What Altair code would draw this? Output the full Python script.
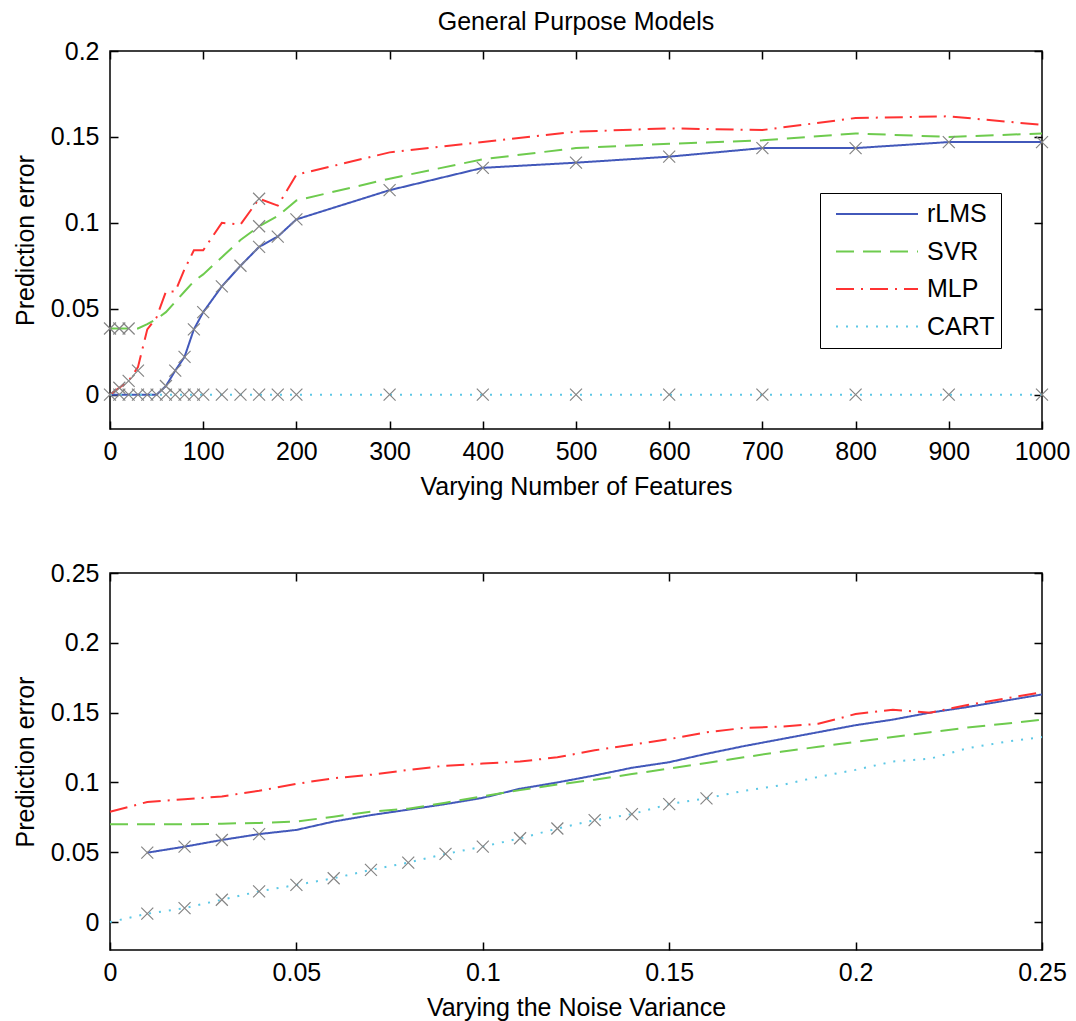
import altair as alt
import pandas as pd

FONT = "Liberation Sans"
SERIES = ["rLMS", "SVR", "MLP", "CART"]
COLORS = ["#4258ba", "#6ecb4e", "#ff3232", "#5cc8e6"]
DASHES = [[1, 0], [18, 9], [18, 7, 2, 7], [2, 8]]
MARK_COLOR = "#858585"

# ---------------- top panel: varying number of features ----------------
FEAT_X = [0, 10, 20, 30, 40, 50, 60, 70, 80, 90, 100, 120, 140, 160, 180, 200,
          300, 400, 500, 600, 700, 800, 900, 1000]
FEAT_RLMS = [0, 0, 0, 0, 0, 0, 0.005, 0.014, 0.022, 0.038, 0.048, 0.063, 0.075,
             0.086, 0.092, 0.102, 0.119, 0.132, 0.135, 0.1385, 0.1435, 0.1435,
             0.147, 0.147]
FEAT_SVR = [0.0385, 0.0385, 0.0385, 0.0385, 0.041, 0.044, 0.048, 0.054, 0.060,
            0.066, 0.070, 0.080, 0.090, 0.098, 0.104, 0.113, 0.1257, 0.137,
            0.1435, 0.146, 0.148, 0.152, 0.150, 0.152]
FEAT_MLP = [0, 0.004, 0.008, 0.016, 0.038, 0.045, 0.060, 0.060, 0.073, 0.084,
            0.084, 0.100, 0.099, 0.114, 0.110, 0.128, 0.141, 0.147, 0.153, 0.155,
            0.154, 0.161, 0.162, 0.157]
FEAT_CART = [0, 0, 0, 0, 0, 0, 0, 0, 0, 0, 0, 0, 0, 0, 0, 0, 0, 0, 0, 0, 0, 0, 0, 0]

FEAT_MARK_X = [0, 10, 20, 30, 40, 50, 60, 70, 80, 90, 100, 120, 140, 160, 180, 200,
               300, 400, 500, 600, 700, 800, 900, 1000,
               0, 10, 20,
               10, 20, 30,
               60, 70, 80, 90, 100, 120, 140, 160, 180, 200,
               300, 400, 500, 600, 700, 800, 900, 1000,
               160, 160]
FEAT_MARK_Y = [0, 0, 0, 0, 0, 0, 0, 0, 0, 0, 0, 0, 0, 0, 0, 0, 0, 0, 0, 0, 0, 0, 0, 0,
               0.0385, 0.0385, 0.0385,
               0.004, 0.008, 0.014,
               0.005, 0.014, 0.022, 0.038, 0.048, 0.063, 0.075, 0.086, 0.092, 0.102,
               0.119, 0.132, 0.135, 0.1385, 0.1435, 0.1435, 0.147, 0.147,
               0.098, 0.114]

FEAT_XTICKS = [0, 100, 200, 300, 400, 500, 600, 700, 800, 900, 1000]
FEAT_YTICKS = [0, 0.05, 0.1, 0.15, 0.2]

# ---------------- bottom panel: varying noise variance ----------------
NOISE_X = [0, 0.01, 0.02, 0.03, 0.04, 0.05, 0.06, 0.07, 0.08, 0.09, 0.10, 0.11,
           0.12, 0.13, 0.14, 0.15, 0.16, 0.17, 0.18, 0.19, 0.20, 0.21, 0.22, 0.23,
           0.24, 0.25]
NOISE_RLMS = [None, 0.0497, 0.054, 0.0588, 0.063, 0.066, 0.072, 0.0766, 0.0805,
              0.0845, 0.089, 0.0955, 0.100, 0.105, 0.1105, 0.1145, 0.1205, 0.126,
              0.131, 0.136, 0.141, 0.145, 0.150, 0.154, 0.1585, 0.163]
NOISE_SVR = [0.070, 0.070, 0.070, 0.0705, 0.071, 0.072, 0.0755, 0.079, 0.0812,
             0.0855, 0.090, 0.0945, 0.0985, 0.102, 0.106, 0.110, 0.114, 0.118,
             0.122, 0.1255, 0.129, 0.1325, 0.136, 0.1393, 0.142, 0.145]
NOISE_MLP = [0.079, 0.086, 0.088, 0.090, 0.094, 0.099, 0.103, 0.1055, 0.109,
             0.112, 0.1135, 0.115, 0.118, 0.123, 0.127, 0.131, 0.136, 0.139,
             0.140, 0.142, 0.149, 0.152, 0.150, 0.1555, 0.160, 0.1647]
NOISE_CART = [0, 0.006, 0.010, 0.016, 0.022, 0.0266, 0.0314, 0.0374, 0.0426,
              0.0488, 0.054, 0.060, 0.067, 0.073, 0.0773, 0.0845, 0.0886, 0.094,
              0.098, 0.104, 0.109, 0.115, 0.117, 0.1245, 0.129, 0.1325]

NOISE_MARK_X = [0.01, 0.02, 0.03, 0.04,
                0.01, 0.02, 0.03, 0.04, 0.05, 0.06, 0.07, 0.08, 0.09, 0.10,
                0.11, 0.12, 0.13, 0.14, 0.15, 0.16]
NOISE_MARK_Y = [0.0497, 0.054, 0.0588, 0.063,
                0.006, 0.010, 0.016, 0.022, 0.0266, 0.0314, 0.0374, 0.0426,
                0.0488, 0.054, 0.060, 0.067, 0.073, 0.0773, 0.0845, 0.0886]

NOISE_XTICKS = [0, 0.05, 0.1, 0.15, 0.2, 0.25]
NOISE_YTICKS = [0, 0.05, 0.1, 0.15, 0.2, 0.25]

PLOT_W = 932
TICK_LEN = 8


def long_frame(xs, series_values):
    rows = []
    for name, vals in zip(SERIES, series_values):
        for x, y in zip(xs, vals):
            if y is not None:
                rows.append({"x": x, "y": y, "series": name})
    return pd.DataFrame(rows)


def main_axis(values, fmt, title, pad, span, tpad):
    # inward ticks on both sides of the box: a grid line that is only drawn
    # for TICK_LEN pixels at each of its two ends
    return alt.Axis(values=values, format=fmt, title=title, ticks=False, tickSize=0,
                    domain=False, grid=True, gridColor="black", gridOpacity=1,
                    gridWidth=1.5,
                    gridDash=[TICK_LEN, span - 2 * TICK_LEN, TICK_LEN, 3000],
                    labelPadding=pad, titlePadding=tpad,
                    labelFontSize=25, titleFontSize=25, labelFont=FONT, titleFont=FONT,
                    titleFontWeight="normal", labelColor="black", titleColor="black",
                    labelFlush=False, labelOverlap=False)


def panel(df_lines, df_marks, xdom, ydom, xticks, yticks, xfmt, yfmt, xtitle,
          height, legend, title=None):
    xs = alt.Scale(domain=xdom, nice=False, zero=False)
    ys = alt.Scale(domain=ydom, nice=False, zero=False)
    xaxis = main_axis(xticks, xfmt, xtitle, 10, height, 10)
    yaxis = main_axis(yticks, yfmt, "Prediction error", 11, PLOT_W, 12)
    lines = alt.Chart(df_lines).mark_line(strokeWidth=2).encode(
        x=alt.X("x:Q", scale=xs, axis=xaxis),
        y=alt.Y("y:Q", scale=ys, axis=yaxis),
        color=alt.Color("series:N", scale=alt.Scale(domain=SERIES, range=COLORS),
                        legend=legend),
        strokeDash=alt.StrokeDash("series:N", scale=alt.Scale(domain=SERIES, range=DASHES),
                                  legend=legend),
    )
    marks = alt.Chart(df_marks).mark_point(
        shape="M-1,-1L1,1M-1,1L1,-1", size=144, filled=False, color=MARK_COLOR,
        strokeWidth=1.2, opacity=1
    ).encode(
        x=alt.X("x:Q", scale=xs, axis=xaxis),
        y=alt.Y("y:Q", scale=ys, axis=yaxis),
    )
    props = dict(width=PLOT_W, height=height)
    if title is not None:
        props["title"] = title
    return alt.layer(lines, marks).properties(**props)


legend_top = alt.Legend(
    title=None, orient="none", legendX=710, legendY=142, symbolType="stroke",
    symbolSize=6724, symbolStrokeWidth=2, labelFontSize=25, labelFont=FONT,
    labelColor="black", strokeColor="black", fillColor="white", padding=6,
    symbolOffset=9, labelOffset=8, clipHeight=30, rowPadding=7.5,
)

top = panel(
    long_frame(FEAT_X, [FEAT_RLMS, FEAT_SVR, FEAT_MLP, FEAT_CART]),
    pd.DataFrame({"x": FEAT_MARK_X, "y": FEAT_MARK_Y}),
    [0, 1000], [-0.02, 0.2], FEAT_XTICKS, FEAT_YTICKS, "d", "~g",
    "Varying Number of Features", 378, legend_top,
    title=alt.TitleParams("General Purpose Models", fontSize=25, font=FONT,
                          fontWeight="normal", anchor="middle", frame="group",
                          color="black", offset=4.5),
)

bottom = panel(
    long_frame(NOISE_X, [NOISE_RLMS, NOISE_SVR, NOISE_MLP, NOISE_CART]),
    pd.DataFrame({"x": NOISE_MARK_X, "y": NOISE_MARK_Y}),
    [0, 0.25], [-0.02, 0.25], NOISE_XTICKS, NOISE_YTICKS, "~g", "~g",
    "Varying the Noise Variance", 377, None,
)

chart = alt.vconcat(top, bottom, spacing=60).resolve_scale(
    color="independent", strokeDash="independent"
).properties(
    padding={"left": 12, "top": 8, "right": 5, "bottom": 0},
    background="white",
).configure_view(stroke="black", strokeWidth=1.5)

chart.save("out.html", embed_options={"renderer": "svg", "actions": False})
